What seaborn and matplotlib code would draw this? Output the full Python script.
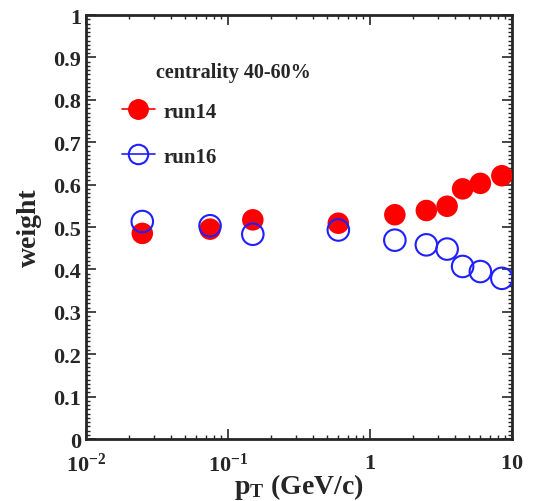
import numpy as np
import pandas as pd
import matplotlib
matplotlib.use('Agg')
import matplotlib.pyplot as plt
import seaborn as sns
from matplotlib.lines import Line2D
from matplotlib.ticker import MultipleLocator, LogLocator, NullFormatter

# -----------------------

pt = [0.025, 0.075, 0.15, 0.6, 1.5, 2.5, 3.5, 4.5, 6.0, 8.5]
run14 = [0.485, 0.495, 0.517, 0.509, 0.529, 0.539, 0.549, 0.590, 0.603, 0.621]
run16 = [0.513, 0.503, 0.483, 0.493, 0.469, 0.458, 0.448, 0.407, 0.395, 0.379]

xticks = [0.01, 0.1, 1, 10]
xticklabels = [r'$\mathbf{10^{-2}}$', r'$\mathbf{10^{-1}}$', r'$\mathbf{1}$', r'$\mathbf{10}$']
yticks = [0, 0.1, 0.2, 0.3, 0.4, 0.5, 0.6, 0.7, 0.8, 0.9, 1.0]
yticklabels = ['0', '0.1', '0.2', '0.3', '0.4', '0.5', '0.6', '0.7', '0.8', '0.9', '1']

# -----------------------

sns.set_style('ticks')
plt.rcParams['font.family'] = ['Liberation Serif', 'DejaVu Serif']
plt.rcParams['font.weight'] = 'bold'
plt.rcParams['mathtext.fontset'] = 'custom'
plt.rcParams['mathtext.rm'] = 'Liberation Serif:bold'
plt.rcParams['mathtext.bf'] = 'Liberation Serif:bold'
plt.rcParams['mathtext.it'] = 'Liberation Serif:bold'

df = pd.DataFrame({'pt': pt * 2, 'weight': run14 + run16,
	'run': ['run14'] * len(pt) + ['run16'] * len(pt)})

fig = plt.figure(figsize=(5.36, 5.02), dpi=100)
ax = fig.add_axes([0.160, 0.1235, 0.795, 0.8445])

red = '#ff0000'
blue = '#1f1fff'

sns.scatterplot(data=df[df['run'] == 'run14'], x='pt', y='weight', ax=ax,
	color=red, s=240, edgecolor='none', legend=False, zorder=3)
sns.scatterplot(data=df[df['run'] == 'run16'], x='pt', y='weight', ax=ax,
	facecolor='none', edgecolor=blue, linewidth=1.5, s=240, legend=False, zorder=4)

ax.set_xscale('log')
ax.set_xlim(0.01, 10)
ax.set_ylim(0, 1)

ax.set_xticks(xticks)
ax.set_xticklabels(xticklabels)
ax.xaxis.set_minor_locator(LogLocator(base=10, subs=np.arange(2, 10)))
ax.xaxis.set_minor_formatter(NullFormatter())
ax.set_yticks(yticks)
ax.set_yticklabels(yticklabels)
ax.yaxis.set_minor_locator(MultipleLocator(0.01))

ax.tick_params(which='both', direction='in', top=True, right=True, labelsize=16)
ax.tick_params(which='major', length=7, width=1.2)
ax.tick_params(which='minor', length=3, width=1.0)
ax.tick_params(axis='x', pad=10)
for s in ax.spines.values():
	s.set_linewidth(2)

ax.set_xlabel(r'$\mathbf{p_{T}}$ (GeV/c)', fontsize=20, fontweight='bold', labelpad=-4)
ax.set_ylabel('weight', fontsize=20, fontweight='bold', labelpad=8)

ax.text(0.165, 0.865, 'centrality 40-60%', transform=ax.transAxes,
	fontsize=14.5, fontweight='bold', va='center')

handles = [
	Line2D([], [], color=red, lw=1.2, marker='o', markersize=14,
		markerfacecolor=red, markeredgecolor=red),
	Line2D([], [], color=blue, lw=1.2, marker='o', markersize=14,
		markerfacecolor='none', markeredgecolor=blue, markeredgewidth=1.5),
]
ax.legend(handles, ['run14', 'run16'], loc='upper left', bbox_to_anchor=(0.04, 0.84),
	frameon=False, handlelength=1.6, handletextpad=0.4,
	labelspacing=1.2, prop={'weight': 'bold', 'size': 15})

plt.savefig('out.png', dpi=100)
